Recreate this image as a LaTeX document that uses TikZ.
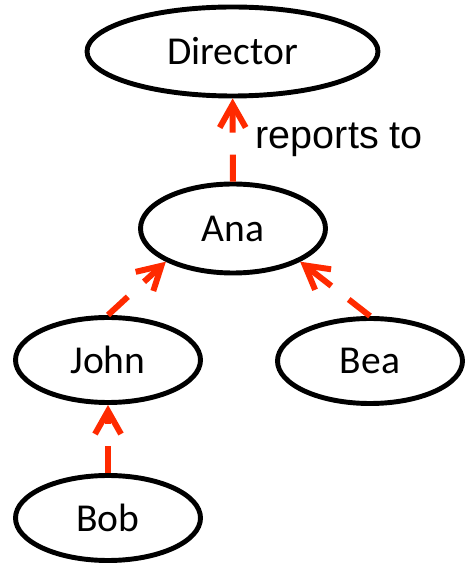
\documentclass[tikz,border=0pt]{standalone}
\usepackage{fontspec}
\usetikzlibrary{shapes.geometric,arrows.meta}
\newfontfamily\personfont{Carlito}
\newfontfamily\labelfont{Liberation Sans}
\definecolor{arrowred}{RGB}{255,42,0}

\begin{document}
\begin{tikzpicture}[
            person/.style={draw, ellipse, line width=2.8pt, minimum width=3.7cm, minimum height=1.7cm,
                font=\personfont\fontsize{22.5}{26}\selectfont},
            reports/.style={draw=arrowred, line width=3.4pt, dash pattern=on 0.54cm off 0.44cm,
                -{Straight Barb[length=0.46cm,width=0.52cm]}}
        ]
            \useasboundingbox (0,0) rectangle (9.5,11.34);
            \node (director) at (4.65,10.31) [person, minimum width=5.82cm, minimum height=1.78cm] {Director};
            \node (ana) at (4.66,6.77) [person, minimum height=1.78cm] {Ana};
            \node (john) at (2.16,4.14) [person] {John};
            \node (bea) at (7.40,4.12) [person] {Bea};
            \node (bob) at (2.16,0.98) [person] {Bob};
            \draw[reports] (ana) -- (director)
                node[midway, right=0.4cm, inner sep=0pt, font=\labelfont\fontsize{22.5}{26}\selectfont] {reports to};
            \draw[reports] (john.north) -- (ana.south west);
            \draw[reports] (bea.north) -- (ana.south east);
            \draw[reports] (bob) -- (john);
        \end{tikzpicture}
\end{document}
